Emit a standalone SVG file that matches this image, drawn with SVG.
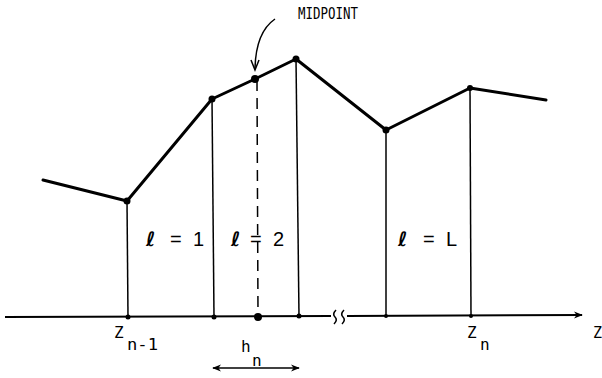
<svg xmlns="http://www.w3.org/2000/svg" width="602" height="378" viewBox="0 0 602 378">
<style>
.curve{fill:none;stroke:#000;stroke-width:3;stroke-linejoin:round;stroke-linecap:round}
.vl{stroke:#000;stroke-width:1.5;fill:none}
.ax{stroke:#000;stroke-width:2;fill:none}
.dot{fill:#000}
.t{font-family:"DejaVu Sans Mono","Liberation Mono",monospace;fill:#000}
.ell{font-family:"DejaVu Sans","Liberation Sans",sans-serif;font-weight:bold;fill:#000}
.eq{font-family:"Liberation Sans","DejaVu Sans",sans-serif;fill:#000}
</style>
<defs>
<marker id="ah" viewBox="0 0 10 10" refX="9" refY="5" markerWidth="9" markerHeight="9" markerUnits="userSpaceOnUse" orient="auto-start-reverse">
<path d="M0,1 L10,5 L0,9 L3,5 Z" fill="#000"/>
</marker>
</defs>
<rect width="602" height="378" fill="#fff"/>
<g id="profile">
<polyline class="curve" points="43,180 127,201 212,99 255,79 296,59 386,130 470,88 546,100"/>
</g>
<g id="verticals">
<line class="vl" x1="127" y1="201" x2="128" y2="316"/>
<line class="vl" x1="212" y1="99" x2="214" y2="316"/>
<line class="vl" x1="257" y1="80" x2="258" y2="316" stroke-dasharray="11,7"/>
<line class="vl" x1="296" y1="59" x2="299" y2="316"/>
<line class="vl" x1="386" y1="130" x2="386" y2="316"/>
<line class="vl" x1="470" y1="88" x2="471" y2="316"/>
</g>
<g id="axis">
<line class="ax" x1="5" y1="317" x2="331" y2="316"/>
<line class="ax" x1="347" y1="316" x2="582" y2="315" marker-end="url(#ah)"/>
<path d="M336,310 q-4,4 -1,7 q3,3 -1,7" class="vl"/>
<path d="M344,310 q-4,4 -1,7 q3,3 -1,7" class="vl"/>
</g>
<g id="dots">
<circle class="dot" cx="127" cy="201" r="3.5"/>
<circle class="dot" cx="212" cy="99" r="3.5"/>
<circle class="dot" cx="255" cy="79" r="4"/>
<circle class="dot" cx="296" cy="59" r="3.5"/>
<circle class="dot" cx="386" cy="130" r="3.5"/>
<circle class="dot" cx="470" cy="88" r="3"/>
<circle class="dot" cx="128" cy="317" r="2.5"/>
<circle class="dot" cx="214" cy="317" r="2.5"/>
<circle class="dot" cx="258" cy="317" r="4"/>
<circle class="dot" cx="299" cy="316" r="2.5"/>
<circle class="dot" cx="386" cy="316" r="2"/>
<circle class="dot" cx="471" cy="316" r="2"/>
</g>
<g id="midpoint-label">
<text class="t" x="298" y="19" font-size="16" textLength="60" lengthAdjust="spacingAndGlyphs">MIDPOINT</text>
<path d="M275,19 Q256,32 255,68" class="vl" stroke-width="1.6"/>
<path d="M251,60 L255,70 L259,60" class="vl" stroke-width="1.6"/>
</g>
<g id="labels">
<text class="ell" x="146" y="246" font-size="20">ℓ</text>
<text class="eq" x="170" y="246" font-size="20">=</text>
<text class="eq" x="193" y="246" font-size="20">1</text>
<text class="ell" x="231" y="246" font-size="20">ℓ</text>
<text class="eq" x="250" y="246" font-size="20">=</text>
<text class="eq" x="273" y="246" font-size="20">2</text>
<text class="ell" x="398" y="246" font-size="20">ℓ</text>
<text class="eq" x="423" y="246" font-size="20">=</text>
<text class="eq" x="446" y="246" font-size="20">L</text>
</g>
<g id="ticks-labels">
<text class="t" x="114" y="338" font-size="16">Z</text>
<text class="t" x="127" y="350" font-size="16" textLength="31" lengthAdjust="spacingAndGlyphs">n-1</text>
<text class="t" x="467" y="338" font-size="16">Z</text>
<text class="t" x="480" y="350" font-size="16">n</text>
<text class="t" x="593" y="338" font-size="15">Z</text>
<text class="t" x="241" y="352" font-size="16">h</text>
<text class="t" x="252" y="366" font-size="16">n</text>
</g>
<g id="hn-arrow">
<line class="vl" x1="213" y1="368" x2="299" y2="368" stroke-width="2" marker-start="url(#ah)" marker-end="url(#ah)"/>
</g>
</svg>
